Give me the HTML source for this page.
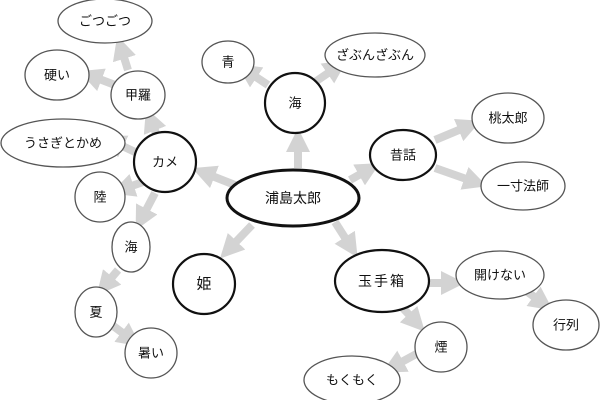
<!DOCTYPE html>
<html><head><meta charset="utf-8"><style>
html,body{margin:0;padding:0;background:#fff;}
svg{display:block;}
text{font-family:"Liberation Sans","Noto Sans CJK JP",sans-serif;font-size:13px;fill:#111;text-anchor:middle;dominant-baseline:central;}
.t{fill:#fff;stroke:#555;stroke-width:1.3;}
.k{fill:#fff;stroke:#111;stroke-width:2.2;}
.a{stroke:#d3d3d3;stroke-width:8;marker-end:url(#h);}
</style></head><body>
<svg width="600" height="400" viewBox="0 0 600 400">
<defs><marker id="h" markerWidth="3" markerHeight="3" refX="1" refY="1.5" orient="auto" markerUnits="strokeWidth"><path d="M0,0 L3,1.5 L0,3z" fill="#d3d3d3"/></marker></defs>
<g>
<line class="a" x1="235" y1="185" x2="207" y2="174"/>
<line class="a" x1="298" y1="168" x2="298" y2="144"/>
<line class="a" x1="350" y1="180" x2="366" y2="171"/>
<line class="a" x1="252" y1="225" x2="231" y2="247"/>
<line class="a" x1="335" y1="222" x2="349" y2="244"/>
<line class="a" x1="156" y1="133" x2="152" y2="123"/>
<line class="a" x1="135" y1="152" x2="116" y2="143"/>
<line class="a" x1="143" y1="182" x2="126" y2="188"/>
<line class="a" x1="155" y1="193" x2="143" y2="216"/>
<line class="a" x1="115" y1="85" x2="94" y2="77"/>
<line class="a" x1="128" y1="70" x2="122" y2="51"/>
<line class="a" x1="118" y1="270" x2="107" y2="283"/>
<line class="a" x1="112" y1="325" x2="128" y2="337"/>
<line class="a" x1="268" y1="85" x2="250" y2="73"/>
<line class="a" x1="315" y1="82" x2="334" y2="69"/>
<line class="a" x1="435" y1="140" x2="466" y2="127"/>
<line class="a" x1="435" y1="168" x2="472" y2="181"/>
<line class="a" x1="412" y1="283" x2="449" y2="283"/>
<line class="a" x1="522" y1="288" x2="540" y2="301"/>
<line class="a" x1="400" y1="305" x2="414" y2="320"/>
<line class="a" x1="420" y1="352" x2="396" y2="365"/>
</g>
<ellipse class="t" cx="105" cy="21" rx="47" ry="22"/><text x="105" y="21">ごつごつ</text>
<ellipse class="t" cx="57" cy="75" rx="32" ry="25"/><text x="57" y="75">硬い</text>
<ellipse class="t" cx="138" cy="95" rx="27" ry="24"/><text x="138" y="95">甲羅</text>
<ellipse class="t" cx="63" cy="143" rx="62" ry="24"/><text x="63" y="143">うさぎとかめ</text>
<ellipse class="k" cx="165" cy="162" rx="31" ry="30"/><text x="165" y="162">カメ</text>
<ellipse class="t" cx="100" cy="197" rx="25" ry="25"/><text x="100" y="197">陸</text>
<ellipse class="t" cx="131" cy="247" rx="19" ry="25"/><text x="131" y="247">海</text>
<ellipse class="t" cx="96" cy="312" rx="21" ry="25"/><text x="96" y="312">夏</text>
<ellipse class="t" cx="151" cy="353" rx="26" ry="25"/><text x="151" y="353">暑い</text>
<ellipse class="k" cx="204" cy="284" rx="31" ry="30"/><text x="204" y="284" style="font-size:15px">姫</text>
<ellipse class="k" cx="293" cy="198" rx="66" ry="28" style="stroke-width:3"/><text x="293" y="198" style="font-size:14px">浦島太郎</text>
<ellipse class="t" cx="228" cy="62" rx="26" ry="21"/><text x="228" y="62">青</text>
<ellipse class="k" cx="295" cy="103" rx="30" ry="30"/><text x="295" y="103">海</text>
<ellipse class="t" cx="375" cy="55" rx="50" ry="22"/><text x="375" y="55">ざぶんざぶん</text>
<ellipse class="k" cx="403" cy="155" rx="33" ry="25"/><text x="403" y="155">昔話</text>
<ellipse class="t" cx="508" cy="118" rx="36" ry="25"/><text x="508" y="118">桃太郎</text>
<ellipse class="t" cx="523" cy="186" rx="42" ry="24"/><text x="523" y="186">一寸法師</text>
<ellipse class="k" cx="382" cy="281" rx="47" ry="31"/><text x="382" y="281" style="font-size:14px;letter-spacing:2px">玉手箱</text>
<ellipse class="t" cx="500" cy="275" rx="44" ry="24"/><text x="500" y="275">開けない</text>
<ellipse class="t" cx="566" cy="325" rx="33" ry="25"/><text x="566" y="325">行列</text>
<ellipse class="t" cx="441" cy="347" rx="26" ry="25"/><text x="441" y="347">煙</text>
<ellipse class="t" cx="352" cy="380" rx="48" ry="24"/><text x="352" y="380">もくもく</text>
</svg>
</body></html>
